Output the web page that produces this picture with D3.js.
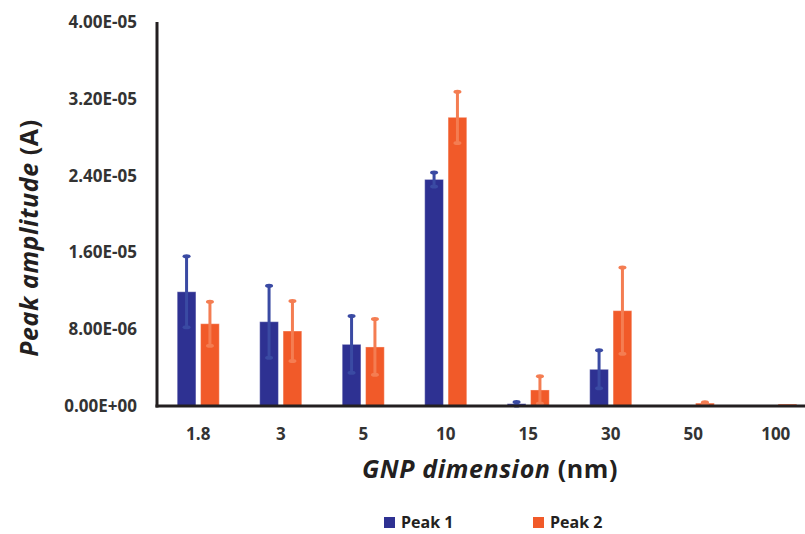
<!DOCTYPE html>
<html>
<head>
<meta charset="utf-8">
<script src="https://cdn.jsdelivr.net/npm/d3@7/dist/d3.min.js"></script>
<style>
  body { margin: 0; background: #fff; }
  svg { display: block; font-family: 'Open Sans', sans-serif; }
</style>
</head>
<body>
<div id="chart"></div>
<script>
// Data
const sizes = ['1.8', '3', '5', '10', '15', '30', '50', '100'];
const seriesNames = ['Peak 1', 'Peak 2'];
const peak1 = [1.19e-5, 8.78e-6, 6.42e-6, 2.36e-5, 2.4e-7, 3.82e-6, 3e-8, 2e-8];
const peak1Err = [3.7e-6, 3.75e-6, 2.95e-6, 7.3e-7, 1.8e-7, 1.98e-6, 0, 0];
const peak2 = [8.57e-6, 7.81e-6, 6.15e-6, 3.007e-5, 1.67e-6, 9.93e-6, 3e-7, 2e-7];
const peak2Err = [2.3e-6, 3.13e-6, 2.9e-6, 2.67e-6, 1.42e-6, 4.5e-6, 1e-7, 0];
const yTicks = [0, 8e-6, 1.6e-5, 2.4e-5, 3.2e-5, 4e-5];

const W = 805, H = 534;
const colors = { 'Peak 1': '#2e3192', 'Peak 2': '#f15a29' };
const errColors = { 'Peak 1': '#3a4aa3', 'Peak 2': '#f47d52' };

const data = sizes.map((s, i) => ({
  size: s,
  vals: [
    { key: 'Peak 1', v: peak1[i], e: peak1Err[i] },
    { key: 'Peak 2', v: peak2[i], e: peak2Err[i] }
  ]
}));

const svg = d3.select('#chart').append('svg')
  .attr('width', W).attr('height', H);

const plotLeft = 157, plotBottom = 406, plotTop = 22;

const x = d3.scaleBand()
  .domain(sizes)
  .range([plotLeft, plotLeft + 660])
  .paddingInner(0.49)
  .paddingOuter(0.245);

const x1 = d3.scaleBand()
  .domain(seriesNames)
  .range([0, x.bandwidth()])
  .paddingInner(0.2);

const y = d3.scaleLinear()
  .domain([0, 4e-5])
  .range([plotBottom, plotTop]);

// Bars
const groups = svg.append('g').selectAll('g')
  .data(data)
  .join('g')
  .attr('transform', d => `translate(${x(d.size)},0)`);

groups.selectAll('rect')
  .data(d => d.vals)
  .join('rect')
  .attr('x', d => x1(d.key))
  .attr('y', d => y(d.v))
  .attr('width', x1.bandwidth())
  .attr('height', d => y(0) - y(d.v))
  .attr('fill', d => colors[d.key])
  .attr('stroke', 'rgba(255,255,255,0.35)')
  .attr('stroke-width', 1);

// Error bars
const eb = groups.selectAll('g.err')
  .data(d => d.vals.filter(v => v.e > 0))
  .join('g')
  .attr('class', 'err');

eb.append('line')
  .attr('x1', d => x1(d.key) + x1.bandwidth() / 2)
  .attr('x2', d => x1(d.key) + x1.bandwidth() / 2)
  .attr('y1', d => y(d.v + d.e))
  .attr('y2', d => y(Math.max(0, d.v - d.e)))
  .attr('stroke', d => errColors[d.key])
  .attr('stroke-width', 3);

eb.selectAll('ellipse')
  .data(d => [
    { key: d.key, val: d.v + d.e },
    { key: d.key, val: Math.max(0, d.v - d.e) }
  ])
  .join('ellipse')
  .attr('cx', d => x1(d.key) + x1.bandwidth() / 2)
  .attr('cy', d => y(d.val))
  .attr('rx', 4)
  .attr('ry', 2)
  .attr('fill', d => errColors[d.key]);

// Axes
const axisColor = '#231f20';
svg.append('line')
  .attr('x1', plotLeft).attr('x2', plotLeft)
  .attr('y1', plotTop).attr('y2', plotBottom + 1.5)
  .attr('stroke', axisColor).attr('stroke-width', 3);
svg.append('line')
  .attr('x1', plotLeft - 1.5).attr('x2', W)
  .attr('y1', plotBottom).attr('y2', plotBottom)
  .attr('stroke', axisColor).attr('stroke-width', 3);

// Y tick labels
svg.append('g').selectAll('text')
  .data(yTicks)
  .join('text')
  .attr('x', 137)
  .attr('y', d => y(d))
  .attr('dy', '0.35em')
  .attr('text-anchor', 'end')
  .attr('font-size', 17)
  .attr('font-weight', 700)
  .attr('fill', '#333')
  .text(d => d === 0 ? '0.00E+00' : d3.format('.2e')(d).replace('e-', 'E-0').toUpperCase());

// X tick labels
svg.append('g').selectAll('text')
  .data(sizes)
  .join('text')
  .attr('x', d => x(d) + x.bandwidth() / 2)
  .attr('y', 434)
  .attr('dy', '0.35em')
  .attr('text-anchor', 'middle')
  .attr('font-size', 17)
  .attr('font-weight', 700)
  .attr('fill', '#333')
  .text(d => d);

// Axis titles
const xt = svg.append('text')
  .attr('x', 490).attr('y', 469)
  .attr('dy', '0.35em')
  .attr('text-anchor', 'middle')
  .attr('font-size', 25)
  .attr('letter-spacing', 0.6)
  .attr('font-weight', 700)
  .attr('fill', '#231f20');
xt.append('tspan').attr('font-style', 'italic').text('GNP dimension');
xt.append('tspan').text(' (nm)');

const yt = svg.append('text')
  .attr('transform', 'translate(29,238) rotate(-90)')
  .attr('dy', '0.35em')
  .attr('text-anchor', 'middle')
  .attr('font-size', 25)
  .attr('letter-spacing', 0.6)
  .attr('font-weight', 700)
  .attr('fill', '#231f20');
yt.append('tspan').attr('font-style', 'italic').text('Peak amplitude');
yt.append('tspan').text(' (A)');

// Legend
const legendX = [384, 533];
const legend = svg.append('g').selectAll('g')
  .data(seriesNames)
  .join('g')
  .attr('transform', (d, i) => `translate(${legendX[i]},522.5)`);
legend.append('rect')
  .attr('x', 0).attr('y', -5.5)
  .attr('width', 11).attr('height', 11)
  .attr('fill', d => colors[d]);
legend.append('text')
  .attr('x', 17)
  .attr('dy', '0.35em')
  .attr('font-size', 16)
  .attr('font-weight', 700)
  .attr('fill', '#231f20')
  .text(d => d);
</script>
</body>
</html>
